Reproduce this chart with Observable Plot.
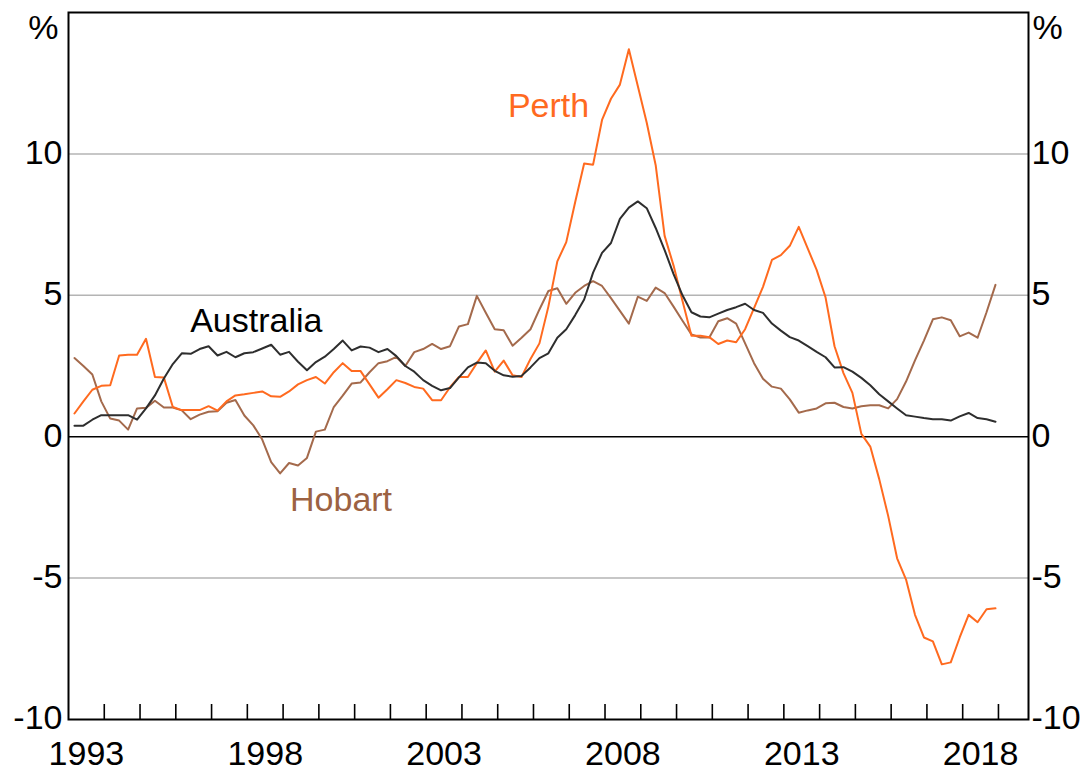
<!DOCTYPE html>
<html>
<head>
<meta charset="utf-8">
<script src="https://cdn.jsdelivr.net/npm/d3@7"></script>
<script src="https://cdn.jsdelivr.net/npm/@observablehq/plot@0.6"></script>
<style>
  html, body { margin: 0; padding: 0; background: #fff; }
</style>
</head>
<body>
<div id="chart"></div>
<script>
// Quarterly series, 1993 Q1 to 2018 Q4 (per cent)
const startYear = 1993;

const australia = [
  0.39, 0.39, 0.6, 0.76, 0.76, 0.76, 0.76, 0.6, 1.0, 1.46,
  2.06, 2.57, 2.95, 2.93, 3.1, 3.2, 2.87, 3.0, 2.81, 2.95,
  2.99, 3.12, 3.25, 2.9, 3.0, 2.65, 2.35, 2.64, 2.83, 3.1,
  3.4, 3.05, 3.19, 3.15, 2.99, 3.1, 2.85, 2.5, 2.3, 2.0,
  1.8, 1.64, 1.72, 2.1, 2.45, 2.62, 2.6, 2.33, 2.17, 2.12,
  2.15, 2.45, 2.78, 2.95, 3.5, 3.8, 4.3, 4.85, 5.8, 6.5,
  6.85, 7.7, 8.1, 8.32, 8.08, 7.38, 6.6, 5.75, 5.0, 4.4,
  4.25, 4.22, 4.35, 4.48, 4.58, 4.7, 4.48, 4.38, 4.0, 3.75,
  3.52, 3.4, 3.2, 3.0, 2.81, 2.45, 2.46, 2.3, 2.08, 1.82,
  1.5, 1.25, 1.0, 0.76, 0.71, 0.66, 0.62, 0.62, 0.57, 0.72,
  0.84, 0.66, 0.62, 0.53
];

const perth = [
  0.82, 1.25, 1.66, 1.8, 1.82, 2.87, 2.9, 2.9, 3.46, 2.11,
  2.09, 1.05, 0.94, 0.94, 0.94, 1.08, 0.92, 1.25, 1.46, 1.5,
  1.55, 1.6, 1.43, 1.41, 1.6, 1.85, 2.0, 2.11, 1.88, 2.28,
  2.6, 2.32, 2.32, 1.85, 1.38, 1.68, 2.0, 1.9, 1.76, 1.7,
  1.29, 1.29, 1.75, 2.11, 2.11, 2.6, 3.05, 2.3, 2.69, 2.17,
  2.11, 2.75, 3.3, 4.6, 6.2, 6.88, 8.3, 9.66, 9.62, 11.2,
  11.95, 12.45, 13.7, 12.4, 11.1, 9.6, 7.1, 6.05, 4.8, 3.57,
  3.57, 3.52, 3.28, 3.4, 3.34, 3.8, 4.55, 5.3, 6.25, 6.42,
  6.75, 7.42, 6.66, 5.9, 4.92, 3.2, 2.25, 1.55, 0.1, -0.35,
  -1.5, -2.8, -4.3, -5.05, -6.3, -7.1, -7.24, -8.05, -7.98, -7.1,
  -6.3, -6.56, -6.1, -6.07
];

const hobart = [
  2.78, 2.5, 2.2, 1.25, 0.64, 0.57, 0.25, 1.0, 1.02, 1.27,
  1.03, 1.03, 0.93, 0.62, 0.78, 0.88, 0.9, 1.2, 1.3, 0.75,
  0.4, -0.1, -0.9, -1.3, -0.93, -1.02, -0.75, 0.18, 0.25, 1.05,
  1.45, 1.88, 1.92, 2.28, 2.6, 2.67, 2.82, 2.5, 2.99, 3.1,
  3.28, 3.1, 3.2, 3.9, 3.98, 4.98, 4.38, 3.8, 3.76, 3.22,
  3.5, 3.8, 4.5, 5.15, 5.25, 4.7, 5.09, 5.33, 5.5, 5.33,
  4.9, 4.45, 4.0, 4.95, 4.8, 5.27, 5.08, 4.6, 4.1, 3.62,
  3.51, 3.51, 4.08, 4.19, 4.0, 3.3, 2.6, 2.05, 1.77, 1.7,
  1.32, 0.85, 0.93, 1.0, 1.18, 1.2, 1.05, 1.0, 1.08, 1.11,
  1.11, 1.0, 1.33, 1.95, 2.7, 3.4, 4.15, 4.22, 4.12, 3.55,
  3.68, 3.5, 4.4, 5.37
];

// Time of each observation (quarter end month, as decimal year)
const quarterTimes = australia.map((_, i) => startYear + 2 / 12 + i / 4);

const yTicks = [-10, -5, 0, 5, 10];
const gridValues = [-5, 5, 10];
const yearTicks = d3.range(1994, 2020);
const yearLabels = [1993, 1998, 2003, 2008, 2013, 2018];

const seriesNames = ["Australia", "Perth", "Hobart"];
const seriesColors = ["#2e2e2e", "#ff6a1f", "#a46a4c"];
const labelColors = ["#000000", "#ff6a1f", "#9c6242"];
const labelX = [1998.25, 2006.42, 2000.62];
const labelY = [4.1, 11.7, -2.25];

const labels = seriesNames.map((name, i) => ({name, x: labelX[i], y: labelY[i], color: labelColors[i]}));

const font = "Arial, 'Liberation Sans', Helvetica, sans-serif";

const chart = Plot.plot({
  width: 1084,
  height: 771,
  marginLeft: 68,
  marginRight: 56,
  marginTop: 12,
  marginBottom: 52,
  style: {fontFamily: font, fontSize: "34px", background: "#fff", color: "#000"},
  x: {domain: [1993, 2019.84], label: null},
  y: {domain: [-10, 15], label: null},
  marks: [
    Plot.ruleY(gridValues, {stroke: "#b4b4b4", strokeWidth: 1.5}),
    Plot.ruleY([0], {stroke: "#000", strokeWidth: 1.6}),
    Plot.line(hobart, {x: (d, i) => quarterTimes[i], y: d => d, stroke: seriesColors[2], strokeWidth: 2}),
    Plot.line(perth, {x: (d, i) => quarterTimes[i], y: d => d, stroke: seriesColors[1], strokeWidth: 2}),
    Plot.line(australia, {x: (d, i) => quarterTimes[i], y: d => d, stroke: seriesColors[0], strokeWidth: 2}),
    Plot.axisX({ticks: yearTicks, tickSize: 15, dy: -15, tickFormat: () => "", strokeWidth: 1.6, label: null}),
    Plot.axisX({ticks: yearLabels.map(y => y + 0.5), tickSize: 0, tickPadding: 21, tickFormat: d => String(Math.floor(d)), label: null}),
    Plot.axisY({anchor: "left", ticks: yTicks, tickSize: 0, tickPadding: 6, dy: -1, tickFormat: d => String(d), label: null}),
    Plot.axisY({anchor: "right", ticks: yTicks, tickSize: 0, tickPadding: 3, dy: -1, tickFormat: d => String(d), label: null}),
    Plot.frame({stroke: "#000", strokeWidth: 2}),
    Plot.text(labels, {x: "x", y: "y", text: "name", fill: "color", fontSize: 34, textAnchor: "middle", lineAnchor: "middle"}),
    Plot.text(["%"], {frameAnchor: "top-left", textAnchor: "end", lineAnchor: "middle", dx: -10, dy: 16, fontSize: 34}),
    Plot.text(["%"], {frameAnchor: "top-right", textAnchor: "start", lineAnchor: "middle", dx: 4, dy: 16, fontSize: 34})
  ]
});

document.getElementById("chart").appendChild(chart);
</script>
</body>
</html>
